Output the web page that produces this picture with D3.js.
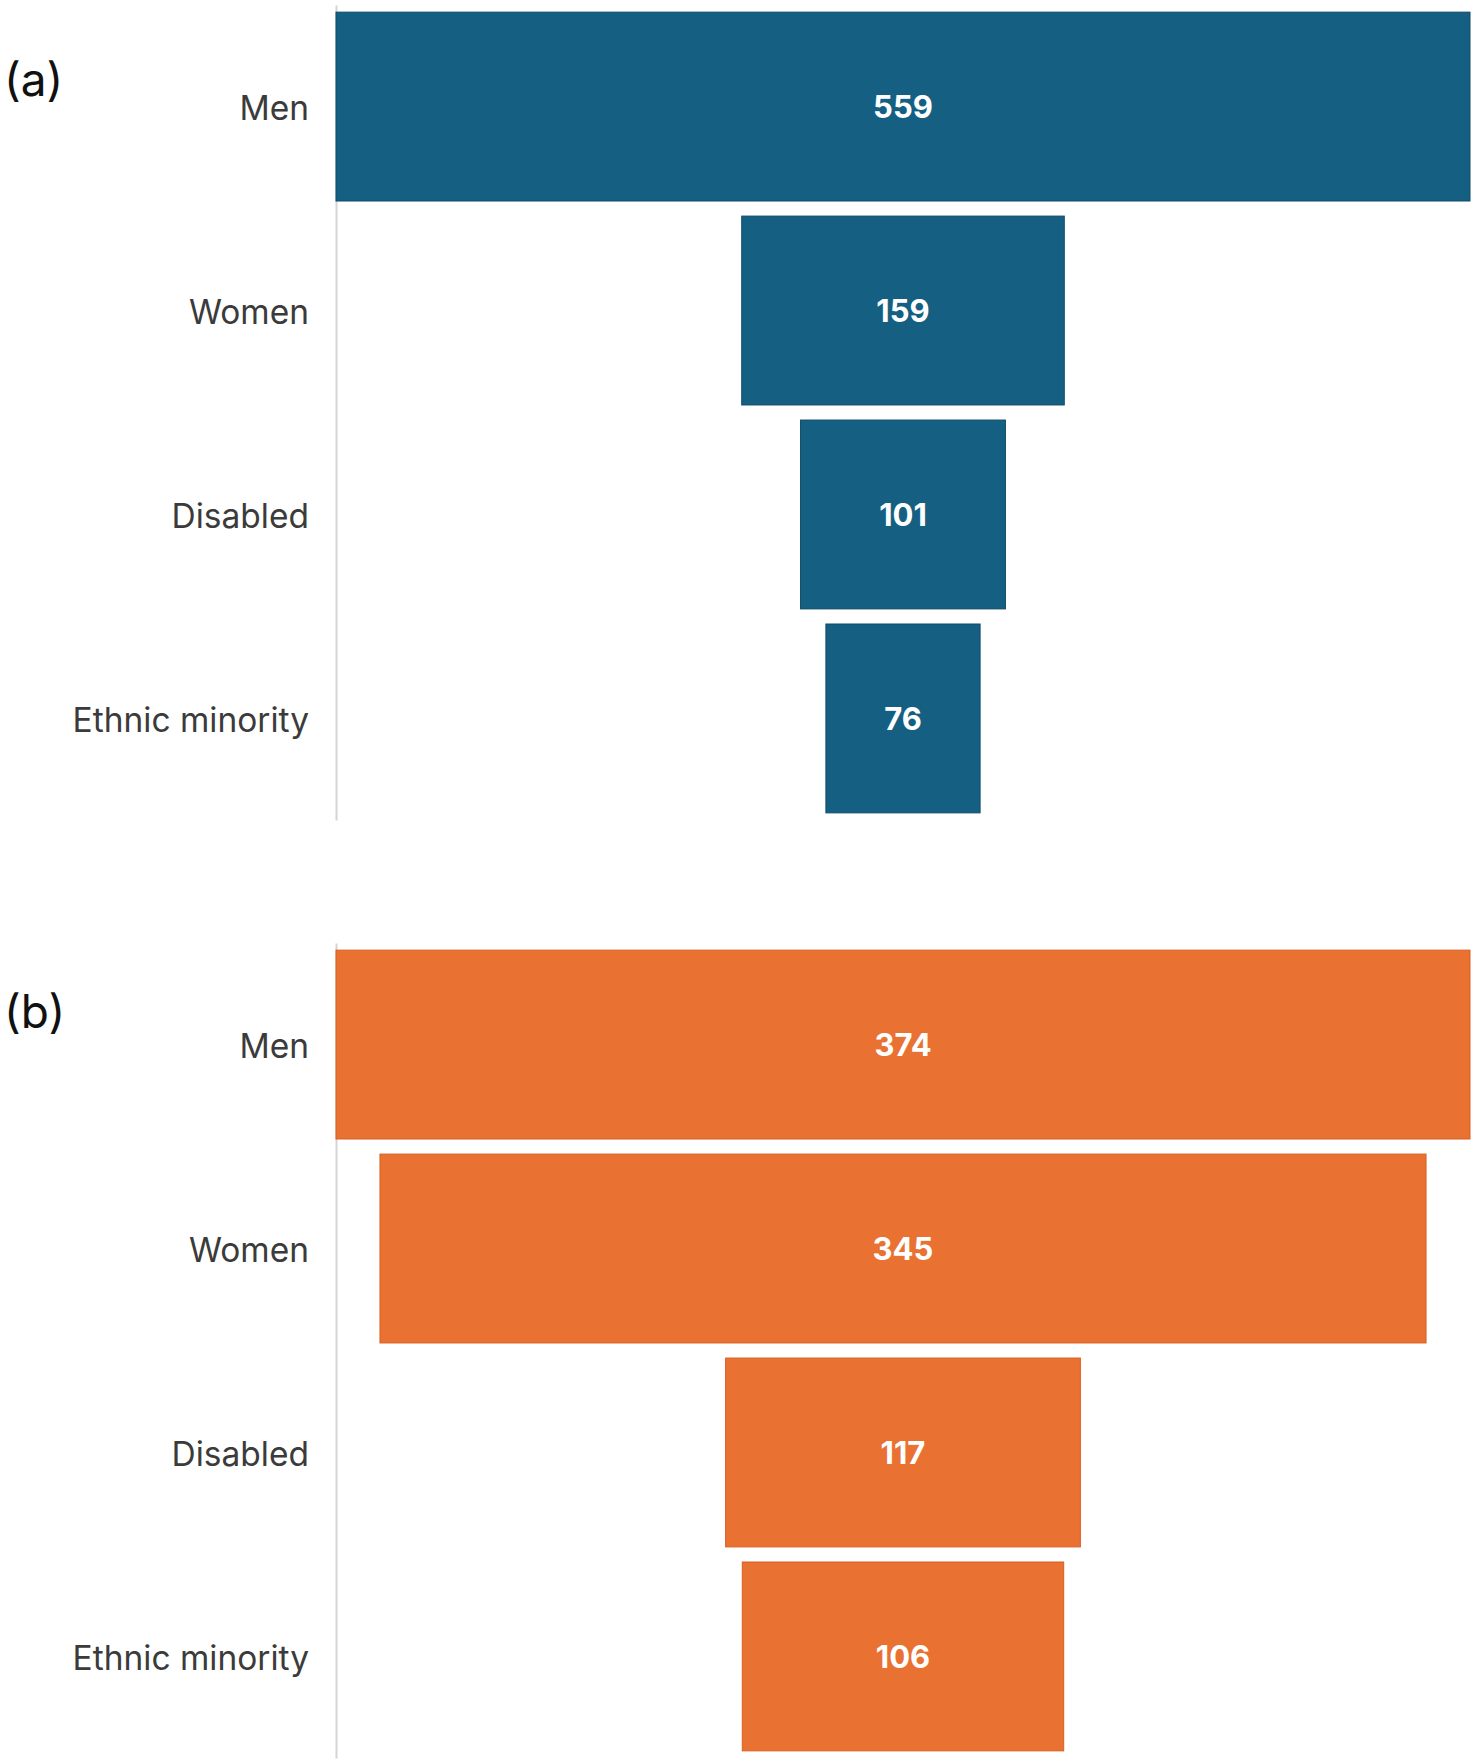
<!DOCTYPE html>
<html>
<head>
<meta charset="utf-8">
<script src="https://cdn.jsdelivr.net/npm/d3@7"></script>
<style>
  body { margin: 0; background: #fff; }
  svg { display: block; }
</style>
</head>
<body>
<script>
// funnel data, two panels
var categories = ["Men", "Women", "Disabled", "Ethnic minority"];
var panelLetters = ["(a)", "(b)"];
var valuesA = [559, 159, 101, 76];
var valuesB = [374, 345, 117, 106];
var panelColors = ["#156082", "#E97132"];
var panelStrokes = ["#0f4a66", "#d85f20"];

var width = 1477, height = 1764;
var axisX = 336, plotW = 1134;

var svg = d3.select("body").append("svg")
    .attr("width", width)
    .attr("height", height);

const drawPanel = (values, letter, color, strokeCol, y0, y1, letterY) => {
    let g = svg.append("g");

    const y = d3.scaleBand()
        .domain(categories)
        .range([y0, y1])
        .paddingInner(0.074)
        .paddingOuter(0.035);

    const x = d3.scaleLinear()
        .domain([0, d3.max(values)])
        .range([0, plotW]);

    let centre = axisX + plotW / 2;

    let rows = categories.map((c, i) => ({ cat: c, val: values[i] }));

    // the category axis on the left
    let ax = g.append("g")
        .attr("transform", "translate(" + axisX + ",0)")
        .call(d3.axisLeft(y).tickSize(0).tickPadding(27));
    ax.select(".domain")
        .attr("stroke", "#d4d4d4")
        .attr("stroke-width", 2);
    ax.selectAll("text")
        .attr("dy", "0.4em")
        .style("font-family", "Inter, 'Open Sans', sans-serif")
        .style("font-size", "33.5px")
        .style("fill", "#3b3b3b");

    g.selectAll("rect.bar")
        .data(rows)
        .enter().append("rect")
        .attr("class", "bar")
        .attr("x", d => centre - x(d.val) / 2)
        .attr("y", d => y(d.cat))
        .attr("width", d => x(d.val))
        .attr("height", y.bandwidth())
        .attr("fill", color)
        .attr("stroke", strokeCol)
        .attr("stroke-width", 1);

    g.selectAll("text.val")
        .data(rows)
        .enter().append("text")
        .attr("class", "val")
        .attr("x", centre)
        .attr("y", d => y(d.cat) + y.bandwidth() / 2)
        .attr("dy", "0.38em")
        .attr("text-anchor", "middle")
        .style("font-family", "Inter, 'Open Sans', sans-serif")
        .style("font-weight", "bold")
        .style("font-size", "31px")
        .style("fill", "#ffffff")
        .text(d => d.val);

    // panel letter
    g.append("text")
        .attr("x", 4)
        .attr("y", letterY)
        .attr("dy", "0.35em")
        .style("font-family", "Inter, 'Open Sans', sans-serif")
        .style("font-size", "46px")
        .style("fill", "#111")
        .text(letter);
};

drawPanel(valuesA, panelLetters[0], panelColors[0], panelStrokes[0], 5, 820, 80);
drawPanel(valuesB, panelLetters[1], panelColors[1], panelStrokes[1], 943, 1758, 1012);
</script>
</body>
</html>
